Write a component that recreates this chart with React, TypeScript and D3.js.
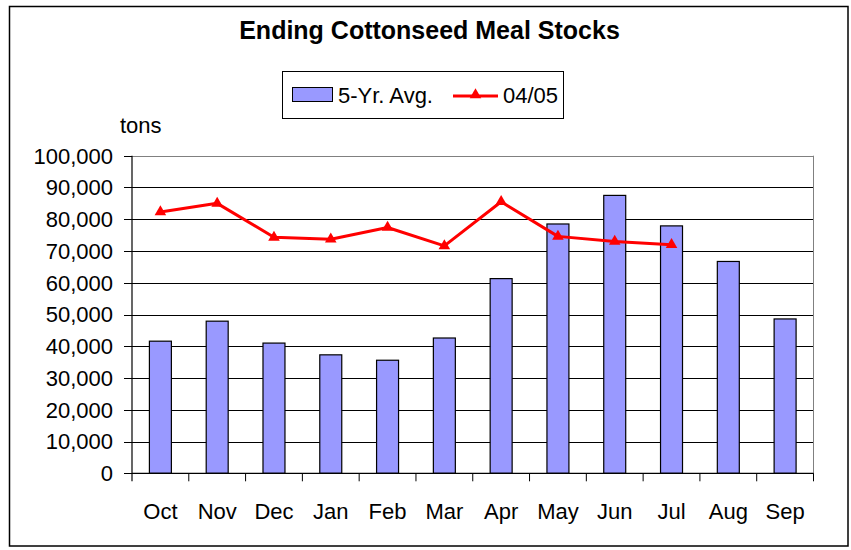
import React from "react";
import * as d3 from "d3";

// values
const months = ["Oct", "Nov", "Dec", "Jan", "Feb", "Mar", "Apr", "May", "Jun", "Jul", "Aug", "Sep"];
const fiveYrAvg = [41600, 47900, 41000, 37300, 35600, 42600, 61300, 78500, 87500, 77900, 66700, 48600];
const stocks0405 = [82300, 85000, 74300, 73700, 77400, 71600, 85500, 74600, 73000, 72000];
const yTicks = [0, 10000, 20000, 30000, 40000, 50000, 60000, 70000, 80000, 90000, 100000];

const FONT = "'Liberation Sans', Arial, sans-serif";
const W = 851;
const H = 550;
const left = 132;
const right = 813.5;
const top = 155.7;
const bottom = 473.3;

function App() {
  const x = d3.scaleBand<string>().domain(months).range([left, right]).padding(0);
  const y = d3.scaleLinear().domain([0, 100000]).range([bottom, top]);
  const barW = x.bandwidth() * 0.387;
  const fmt = d3.format(",");

  const linePts = stocks0405.map((v, i) => [x(months[i])! + x.bandwidth() / 2, y(v)] as [number, number]);
  const line = d3.line()(linePts) || "";
  const tri = d3.symbol().type(d3.symbolTriangle).size(58)() || "";

  return (
    <svg width={W} height={H} style={{ position: "absolute", left: 0, top: 0 }} fontFamily={FONT}>
      <rect x={0} y={0} width={W} height={H} fill="#fff" />
      <rect x={9.5} y={6.5} width={838.5} height={539.5} fill="#fff" stroke="#000" strokeWidth={1.5} />

      <text x={429.5} y={39} textAnchor="middle" fontSize={25} fontWeight="bold">
        Ending Cottonseed Meal Stocks
      </text>

      {/* legend */}
      <rect x={282.5} y={71.5} width={281} height={47} fill="#fff" stroke="#000" strokeWidth={1} />
      <rect x={292.5} y={87.5} width={40} height={14} fill="#9999FF" stroke="#000" strokeWidth={1} />
      <text x={338} y={103} fontSize={22}>5-Yr. Avg.</text>
      <line x1={453} x2={498} y1={96} y2={96} stroke="#FF0000" strokeWidth={3} />
      <path d={tri} transform="translate(475.5,95)" fill="#FF0000" />
      <text x={503} y={103} fontSize={22}>04/05</text>

      <text x={120} y={133} fontSize={22}>tons</text>

      {/* gridlines */}
      {yTicks.map((t) => (
        <line
          key={t}
          x1={left}
          x2={right}
          y1={Math.round(y(t)) + 0.5}
          y2={Math.round(y(t)) + 0.5}
          stroke={t === 100000 ? "#808080" : "#000"}
          strokeWidth={1}
        />
      ))}
      <line x1={right} x2={right} y1={top} y2={bottom} stroke="#808080" strokeWidth={1} />

      {/* bars */}
      {fiveYrAvg.map((v, i) => (
        <rect
          key={months[i]}
          x={x(months[i])! + (x.bandwidth() - barW) / 2}
          y={y(v)}
          width={barW}
          height={bottom - y(v)}
          fill="#9999FF"
          stroke="#000"
          strokeWidth={1.2}
        />
      ))}

      {/* y axis */}
      <line x1={left} x2={left} y1={top} y2={bottom + 8} stroke="#000" strokeWidth={1.2} />
      {yTicks.map((t) => (
        <g key={"yt" + t}>
          <line x1={left - 8} x2={left} y1={Math.round(y(t)) + 0.5} y2={Math.round(y(t)) + 0.5} stroke="#000" />
          <text x={113} y={y(t)} dy="0.36em" textAnchor="end" fontSize={22}>
            {fmt(t)}
          </text>
        </g>
      ))}

      {/* x axis */}
      <line x1={left} x2={right} y1={bottom} y2={bottom} stroke="#000" strokeWidth={1.2} />
      {months.map((m, i) => (
        <g key={"xt" + m}>
          <line x1={x(m)! + x.bandwidth()} x2={x(m)! + x.bandwidth()} y1={bottom} y2={bottom + 8} stroke="#000" />
          <text x={x(m)! + x.bandwidth() / 2} y={519} textAnchor="middle" fontSize={22}>
            {m}
          </text>
        </g>
      ))}

      {/* 04/05 line */}
      <path d={line} fill="none" stroke="#FF0000" strokeWidth={3} strokeLinejoin="round" />
      {linePts.map((p, i) => (
        <path key={"m" + i} d={tri} transform={`translate(${p[0]},${p[1]})`} fill="#FF0000" />
      ))}
    </svg>
  );
}

export default App;
